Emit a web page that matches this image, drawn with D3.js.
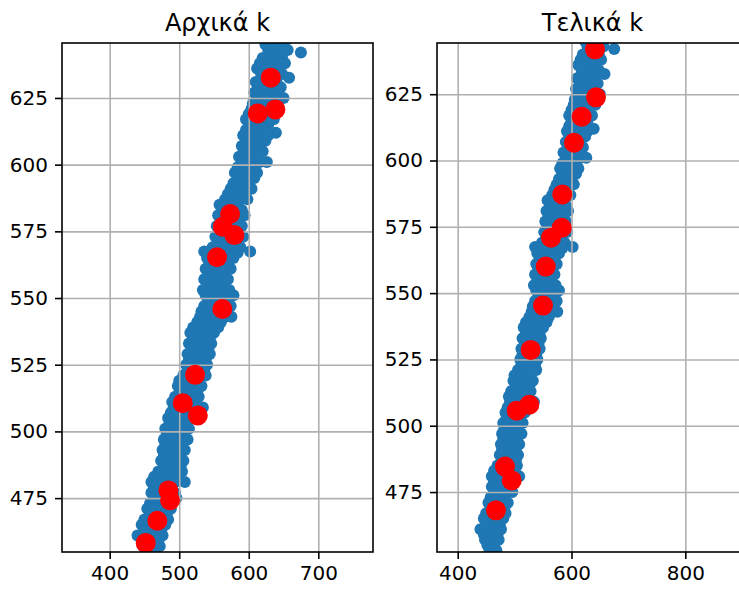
<!DOCTYPE html>
<html>
<head>
<meta charset="utf-8">
<script src="https://cdn.jsdelivr.net/npm/d3@7"></script>
<style>
  body { margin: 0; background: #fff; }
  svg { display: block; }
  text { font-family: "DejaVu Sans", sans-serif; fill: #000; }
</style>
</head>
<body>
<svg id="chart" width="739" height="589"></svg>
<script>
// Panel titles
const titles = ["Αρχικά k", "Τελικά k"];

// Axis limits of each panel
const xLimits = [[331.4, 778.7], [363.6, 910.2]];
const yLimits = [[454.8, 645.6], [452.4, 644.3]];

// Tick values
const xTicks = [[400, 500, 600, 700], [400, 600, 800]];
const yTicks = [475, 500, 525, 550, 575, 600, 625];

// Observations [x, y], shared by both panels
const observations = [
  [632,647],[645,647],[655,647],
  [624,645],[638,645],[650,645],
  [628,643],[642,643],[656,643],
  [675,642],
  [620,640],[633,640],[648,640],
  [616,638],[630,638],[646,638],[652,638],
  [612,636],[625,636],[640,636],
  [618,634],[634,634],[648,634],
  [658,632.6],
  [610,631],[624,631],[640,631],
  [615,629],[632,629],[646,629],
  [608,627],[620,627],[636,627],
  [612,625],[628,625],[645,625],[650,625],
  [606,623],[618,623],[634,623],
  [604,621],[616,621],[630,621],[642,621],
  [600,619],[612,619],[626,619],
  [596,617],[608,617],[622,617],[636,617],
  [600,615],[614,615],[628,615],
  [596,613],[606,613],[620,613],
  [639,612],
  [592,611],[604,611],[618,611],[628,611],
  [596,609],[610,609],[624,609],
  [590,607],[600,607],[614,607],
  [594,605],[606,605],[620,605],
  [586,603],[598,603],[612,603],
  [590,601],[602,601],[616,601],[626,601],
  [584,599],[596,599],[608,599],
  [580,597],[592,597],[604,597],[612,597],
  [584,595],[596,595],[608,595],
  [578,593],[588,593],[600,593],
  [574,591],[584,591],[596,591],[604,591],
  [570,589],[580,589],[592,589],
  [566,587],[576,587],[588,587],[598,587],
  [558,585],[572,585],[584,585],
  [562,583],[576,583],[590,583],
  [556,581],[568,581],[580,581],[594,581],
  [560,579],[572,579],[586,579],
  [554,577],[566,577],[578,577],[590,577],
  [558,575],[570,575],[584,575],
  [552,573],[564,573],[576,573],[592,573],
  [556,571],[568,571],[582,571],
  [548,569],[560,569],[574,569],[588,569],
  [536,567.4],[602,567.4],
  [544,567],[556,567],[568,567],[584,567],
  [540,565],[552,565],[566,565],[578,565],
  [544,563],[556,563],[570,563],
  [538,561],[550,561],[562,561],[574,561],
  [542,559],[554,559],[566,559],
  [536,557],[548,557],[560,557],[570,557],
  [540,555],[552,555],[564,555],
  [534,553],[546,553],[558,553],[572,553],
  [538,551],[550,551],[564,551],[578,551],
  [542,549],[556,549],[570,549],
  [536,547],[548,547],[562,547],[574,547],
  [532,545],[544,545],[556,545],[568,545],
  [530,543],[540,543],[552,543],[566,543],[575,543],
  [526,541],[536,541],[548,541],[560,541],
  [520,539],[532,539],[544,539],[556,539],
  [516,537],[528,537],[540,537],[550,537],
  [520,535],[532,535],[544,535],
  [514,533],[524,533],[536,533],[546,533],
  [518,531],[530,531],[542,531],
  [512,529],[522,529],[534,529],[544,529],
  [514,527],[526,527],[538,527],
  [510,525],[520,525],[532,525],[540,525],
  [512,523],[524,523],[536,523],
  [506,521],[516,521],[528,521],[538,521],
  [500,519],[512,519],[524,519],
  [498,517],[508,517],[520,517],[532,517],
  [502,515],[514,515],[526,515],
  [494,513],[504,513],[516,513],[528,513],
  [490,511],[500,511],[512,511],[524,511],
  [492,509],[504,509],[516,509],[534,509],
  [488,507],[498,507],[510,507],[522,507],
  [484,505],[494,505],[506,505],[518,505],
  [486,503],[498,503],[510,503],
  [480,501],[490,501],[502,501],[514,501],
  [482,499],[494,499],[506,499],
  [478,497],[488,497],[500,497],[512,497],
  [480,495],[492,495],[504,495],
  [476,493],[486,493],[498,493],[508,493],
  [478,491],[490,491],[502,491],
  [474,489],[484,489],[496,489],[506,489],
  [478,487],[490,487],[502,487],
  [470,485],[482,485],[494,485],[504,485],
  [464,483],[476,483],[488,483],[500,483],
  [460,481],[470,481],[482,481],[494,481],[508,481],
  [464,479],[476,479],[488,479],
  [460,477],[470,477],[482,477],[494,477],
  [464,475],[476,475],[488,475],[496,475],
  [458,473],[468,473],[480,473],
  [454,471],[464,471],[476,471],[488,471],
  [458,469],[470,469],[482,469],
  [450,467],[462,467],[474,467],[484,467],
  [446,465],[456,465],[468,465],[480,465],
  [450,463],[462,463],[474,463],
  [440,461],[452,461],[464,461],[476,461],
  [446,459],[458,459],[470,459],
  [448,457],[460,457],[472,457],
  [452,455],[464,455],
  [456,453],[468,453]
];

// Cluster centres before and after iterating
const initialCentres = [
  [631.7,632.6],[613.0,619.2],[638.3,620.7],[573.1,581.5],[562.6,576.7],
  [579.3,573.6],[554.4,565.3],[562.0,545.9],[522.8,521.2],[505.1,510.6],
  [526.7,506.0],[484.4,477.9],[486.8,474.2],[468.5,466.5],[451.8,458.2]
];
const finalCentres = [
  [641.3,641.9],[643.0,623.8],[617.9,616.5],[604.4,606.7],[583.8,587.2],
  [582.8,574.6],[564.0,570.9],[554.7,560.0],[549.9,545.3],[528.3,528.6],
  [503.7,505.7],[525.8,507.9],[483.1,484.6],[494.9,479.4],[467.3,468.1]
];
const centreSets = [initialCentres, finalCentres];

// Layout of the two panels
const panels = [
  { left: 62, top: 43, width: 311, height: 509 },
  { left: 437, top: 43, width: 311, height: 509 }
];

const svg = d3.select("#chart");
const BLUE = "#1f77b4";
const GRID = "#b0b0b0";

panels.forEach((p, i) => {
  const x = d3.scaleLinear().domain(xLimits[i]).range([0, p.width]);
  const y = d3.scaleLinear().domain(yLimits[i]).range([p.height, 0]);

  const g = svg.append("g").attr("transform", `translate(${p.left},${p.top})`);

  g.append("clipPath").attr("id", "clip" + i)
    .append("rect").attr("width", p.width).attr("height", p.height);

  const plot = g.append("g").attr("clip-path", `url(#clip${i})`);

  // observations
  plot.append("g").selectAll("circle")
    .data(observations).join("circle")
    .attr("cx", d => x(d[0])).attr("cy", d => y(d[1]))
    .attr("r", 6).attr("fill", BLUE);

  // grid
  const gx = plot.append("g")
    .attr("transform", `translate(0,${p.height})`)
    .call(d3.axisBottom(x).tickValues(xTicks[i]).tickSize(-p.height).tickFormat(""));
  const gy = plot.append("g")
    .call(d3.axisLeft(y).tickValues(yTicks).tickSize(-p.width).tickFormat(""));
  [gx, gy].forEach(a => {
    a.select(".domain").remove();
    a.selectAll("line").attr("stroke", GRID).attr("stroke-width", 1.6);
  });

  // centres
  plot.append("g").selectAll("circle")
    .data(centreSets[i]).join("circle")
    .attr("cx", d => x(d[0])).attr("cy", d => y(d[1]))
    .attr("r", 10).attr("fill", "#ff0000");

  // frame
  g.append("rect").attr("width", p.width).attr("height", p.height)
    .attr("fill", "none").attr("stroke", "#000").attr("stroke-width", 1.6);

  // axes
  const ax = g.append("g").attr("transform", `translate(0,${p.height})`)
    .call(d3.axisBottom(x).tickValues(xTicks[i]).tickSize(7).tickPadding(7).tickFormat(d3.format("d")));
  const ay = g.append("g")
    .call(d3.axisLeft(y).tickValues(yTicks).tickSize(7).tickPadding(7).tickFormat(d3.format("d")));
  [ax, ay].forEach(a => {
    a.select(".domain").remove();
    a.selectAll("line").attr("stroke", "#000").attr("stroke-width", 1.6);
    a.selectAll("text").attr("font-size", 20).attr("font-family", "DejaVu Sans").attr("fill", "#000");
  });

  // title
  g.append("text")
    .attr("x", p.width / 2).attr("y", -12)
    .attr("text-anchor", "middle")
    .attr("font-size", 24)
    .text(titles[i]);
});
</script>
</body>
</html>
